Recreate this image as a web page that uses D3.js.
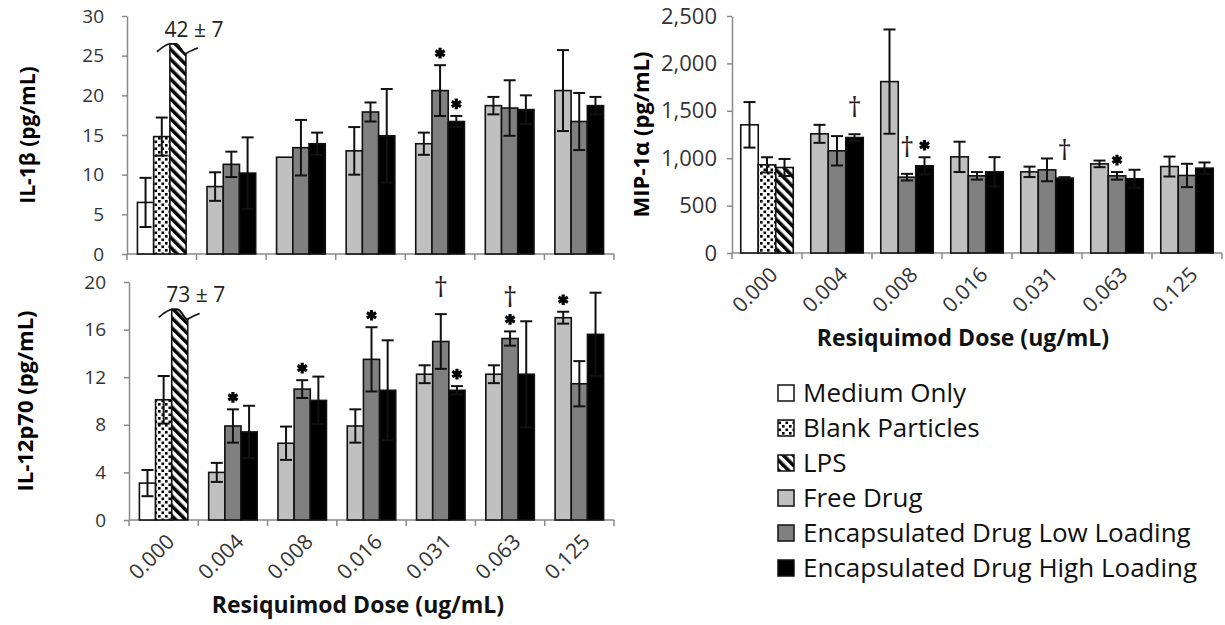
<!DOCTYPE html>
<html>
<head>
<meta charset="utf-8">
<script src="https://cdn.jsdelivr.net/npm/d3@7"></script>
<style>
  body { margin: 0; background: #fff; }
  text { font-family: "Open Sans", "Noto Sans", sans-serif; }
</style>
</head>
<body>
<div id="chart"></div>
<script>
// ---- data ----
const doses = ["0.000", "0.004", "0.008", "0.016", "0.031", "0.063", "0.125"];
const seriesNames = ["Medium Only", "Blank Particles", "LPS", "Free Drug",
  "Encapsulated Drug Low Loading", "Encapsulated Drug High Loading"];

// group 0.000 -> [Medium, Blank, LPS]; other doses -> [Free, Low, High]
const il1bMean = [[6.5, 14.8, 42], [8.5, 11.3, 10.2], [12.2, 13.4, 13.9], [13.0, 17.9, 14.9],
  [13.9, 20.6, 16.7], [18.7, 18.4, 18.2], [20.6, 16.7, 18.7]];
const il1bErr = [[3.1, 2.4, 7], [1.8, 1.6, 4.5], [0, 3.5, 1.4], [3.0, 1.2, 5.9],
  [1.4, 3.2, 0.7], [1.1, 3.5, 1.8], [5.1, 3.6, 1.1]];
const il1bMarks = [{ g: 4, s: 1, m: "*" }, { g: 4, s: 2, m: "*" }];

const il12Mean = [[3.1, 10.1, 73], [4.0, 7.9, 7.4], [6.45, 11.0, 10.05], [7.9, 13.5, 10.9],
  [12.25, 15.0, 10.9], [12.25, 15.25, 12.25], [17.0, 11.45, 15.6]];
const il12Err = [[1.1, 2.0, 7], [0.8, 1.4, 2.2], [1.4, 0.75, 2.0], [1.4, 2.7, 4.2],
  [0.75, 2.3, 0.35], [0.75, 0.6, 4.45], [0.5, 1.9, 3.5]];
const il12Marks = [{ g: 1, s: 1, m: "*" }, { g: 2, s: 1, m: "*" }, { g: 3, s: 1, m: "*" },
  { g: 4, s: 1, m: "†" }, { g: 4, s: 2, m: "*" }, { g: 5, s: 1, m: "*†" }, { g: 6, s: 0, m: "*" }];

const mipMean = [[1352, 930, 902], [1257, 1078, 1218], [1808, 800, 920], [1014, 814, 856],
  [856, 877, 790], [940, 814, 783], [912, 818, 895]];
const mipErr = [[240, 80, 90], [95, 155, 35], [550, 35, 90], [160, 40, 155],
  [55, 120, 10], [35, 40, 95], [105, 123, 60]];
const mipMarks = [{ g: 1, s: 2, m: "†" }, { g: 2, s: 1, m: "†" }, { g: 2, s: 2, m: "*" },
  { g: 4, s: 2, m: "†" }, { g: 5, s: 1, m: "*" }];

const fills = ["#ffffff", "url(#dots)", "url(#stripes)", "#c0c0c0", "#808080", "#000000"];

const svg = d3.select("#chart").append("svg")
  .attr("width", 1225).attr("height", 625)
  .style("background-color", "#fff");

// patterns for the control bars
const defs = svg.append("defs");
const dots = defs.append("pattern").attr("id", "dots")
  .attr("patternUnits", "userSpaceOnUse").attr("width", 7).attr("height", 7);
dots.append("rect").attr("width", 7).attr("height", 7).attr("fill", "#fff");
dots.append("rect").attr("x", 0.5).attr("y", 0.5).attr("width", 2.6).attr("height", 2.6).attr("fill", "#000");
dots.append("rect").attr("x", 4).attr("y", 4).attr("width", 2.6).attr("height", 2.6).attr("fill", "#000");
const stripes = defs.append("pattern").attr("id", "stripes")
  .attr("patternUnits", "userSpaceOnUse").attr("width", 7).attr("height", 7)
  .attr("patternTransform", "rotate(-45)");
stripes.append("rect").attr("width", 7).attr("height", 7).attr("fill", "#fff");
stripes.append("rect").attr("width", 3.5).attr("height", 7).attr("fill", "#000");

class GroupedBarPanel {

  constructor(_config, _means, _errs, _marks) {
    this.config = {
      x0: _config.x0, x1: _config.x1, yTop: _config.yTop, yBottom: _config.yBottom,
      yMax: _config.yMax, yStep: _config.yStep,
      yFormat: _config.yFormat || d3.format("d"),
      yTitle: _config.yTitle, yTitleX: _config.yTitleX, yTitleSize: _config.yTitleSize || 22,
      yTickSize: _config.yTickSize || 19, yTickPad: _config.yTickPad || 18,
      groupFrac: _config.groupFrac || 0.7,
      showX: _config.showX, xTitleX: _config.xTitleX, breakAt: _config.breakAt
    };
    this.means = _means;
    this.errs = _errs;
    this.marks = _marks;
    this.initVis();
  }

  initVis() {
    let vis = this;
    const c = vis.config;

    vis.xScale = d3.scaleBand().domain(doses).range([c.x0, c.x1]);
    const step = vis.xScale.step();
    const gw = step * c.groupFrac;
    vis.xInner = d3.scaleBand().domain([0, 1, 2]).range([(step - gw) / 2, (step + gw) / 2]);
    vis.yScale = d3.scaleLinear().domain([0, c.yMax]).range([c.yBottom, c.yTop]);

    vis.g = svg.append("g");

    // y axis
    vis.yAxis = d3.axisLeft(vis.yScale)
      .tickValues(d3.range(0, c.yMax + 1e-9, c.yStep))
      .tickFormat(c.yFormat)
      .tickSizeInner(5).tickSizeOuter(0).tickPadding(c.yTickPad);
    vis.yAxisG = vis.g.append("g")
      .attr("transform", `translate(${c.x0},0)`)
      .call(vis.yAxis);
    vis.yAxisG.selectAll("path, line").attr("stroke", "#8a8a8a").attr("stroke-width", 1.5);
    vis.yAxisG.selectAll("text").attr("fill", "#333").style("font-size", c.yTickSize + "px")
      .style("font-family", "'Open Sans', sans-serif");

    // x axis with ticks on category boundaries
    vis.g.append("line")
      .attr("x1", c.x0).attr("x2", c.x1).attr("y1", c.yBottom).attr("y2", c.yBottom)
      .attr("stroke", "#8a8a8a").attr("stroke-width", 1.5);
    vis.g.selectAll("line.xtick").data(doses.concat(["end"])).join("line")
      .attr("class", "xtick")
      .attr("x1", (d, i) => c.x0 + i * step).attr("x2", (d, i) => c.x0 + i * step)
      .attr("y1", c.yBottom).attr("y2", c.yBottom + 6)
      .attr("stroke", "#8a8a8a").attr("stroke-width", 1.5);

    if (c.showX) {
      vis.g.selectAll("text.xlab").data(doses).join("text")
        .attr("class", "xlab")
        .attr("text-anchor", "end")
        .attr("transform", d => `translate(${vis.xScale(d) + step / 2 + 12},${c.yBottom + 23}) rotate(-45)`)
        .attr("fill", "#333").style("font-size", "21px")
        .text(d => d);
      vis.g.append("text")
        .attr("x", c.xTitleX).attr("y", c.yBottom + 93)
        .attr("text-anchor", "middle")
        .style("font-size", "23px").style("font-weight", "bold").attr("fill", "#111")
        .text("Resiquimod Dose (ug/mL)");
    }

    vis.g.append("text")
      .attr("transform", `translate(${c.yTitleX},${(c.yTop + c.yBottom) / 2}) rotate(-90)`)
      .attr("text-anchor", "middle")
      .style("font-size", c.yTitleSize + "px").style("font-weight", "bold").attr("fill", "#000")
      .text(c.yTitle);

    vis.renderVis();
  }

  barX(g, s) {
    return this.xScale(doses[g]) + this.xInner(s);
  }

  renderVis() {
    let vis = this;
    const c = vis.config;
    const bw = vis.xInner.bandwidth();

    const bars = [];
    vis.means.forEach((row, g) => row.forEach((v, s) => {
      bars.push({ g: g, s: s, v: v, e: vis.errs[g][s], series: g === 0 ? s : s + 3 });
    }));

    const plain = bars.filter(d => !(c.breakAt && d.v > c.breakAt));
    const broken = bars.filter(d => c.breakAt && d.v > c.breakAt);

    vis.g.selectAll("rect.bar").data(plain).join("rect")
      .attr("class", "bar")
      .attr("x", d => vis.barX(d.g, d.s))
      .attr("width", bw)
      .attr("y", d => vis.yScale(d.v))
      .attr("height", d => c.yBottom - vis.yScale(d.v))
      .attr("fill", d => fills[d.series])
      .attr("stroke", "#111").attr("stroke-width", 1.6);

    // broken bar: top follows a wavy break line, real value written above
    const waveY = (dx, t) => {
      if (dx < 0) return t + 8 * Math.pow(-dx / 13, 1.4);
      if (dx <= bw) {
        const u = Math.max(0, Math.min(1, (dx / bw - 0.35) / 0.65));
        return t + 10 * u * u * (3 - 2 * u);
      }
      return t + 10 - 6 * Math.pow((dx - bw) / 12, 0.8);
    };
    broken.forEach(d => {
      const bx = vis.barX(d.g, d.s);
      const t = vis.yScale(c.breakAt);
      const top = d3.range(0, bw + 0.01, 1).map(dx => [bx + dx, waveY(dx, t)]);
      const poly = [[bx, c.yBottom]].concat(top).concat([[bx + bw, c.yBottom]]);
      vis.g.append("path")
        .attr("d", d3.line()(poly) + "Z")
        .attr("fill", fills[d.series]).attr("stroke", "#111").attr("stroke-width", 1.6);
      const wave = d3.range(-13, bw + 12.01, 1).map(dx => [bx + dx, waveY(dx, t)]);
      vis.g.append("path")
        .attr("d", d3.line().curve(d3.curveBasis)(wave))
        .attr("fill", "none").attr("stroke", "#111").attr("stroke-width", 1.6);
      vis.g.append("text")
        .attr("x", bx + bw / 2 + 16).attr("y", t - 7)
        .attr("text-anchor", "middle")
        .style("font-size", "21px").attr("fill", "#222")
        .text(`${d.v} ± ${d.e}`);
    });

    // error bars
    const eb = plain.filter(d => d.e > 0);
    const cap = 6;
    const ebG = vis.g.selectAll("g.err").data(eb).join("g").attr("class", "err")
      .attr("stroke", "#111").attr("stroke-width", 2);
    ebG.append("line")
      .attr("x1", d => vis.barX(d.g, d.s) + bw / 2).attr("x2", d => vis.barX(d.g, d.s) + bw / 2)
      .attr("y1", d => vis.yScale(d.v - d.e)).attr("y2", d => vis.yScale(d.v + d.e));
    ebG.append("line")
      .attr("x1", d => vis.barX(d.g, d.s) + bw / 2 - cap).attr("x2", d => vis.barX(d.g, d.s) + bw / 2 + cap)
      .attr("y1", d => vis.yScale(d.v + d.e)).attr("y2", d => vis.yScale(d.v + d.e));
    ebG.append("line")
      .attr("x1", d => vis.barX(d.g, d.s) + bw / 2 - cap).attr("x2", d => vis.barX(d.g, d.s) + bw / 2 + cap)
      .attr("y1", d => vis.yScale(d.v - d.e)).attr("y2", d => vis.yScale(d.v - d.e));

    // significance marks
    vis.marks.forEach(mk => {
      const cx = vis.barX(mk.g, mk.s) + bw / 2;
      const topY = vis.yScale(vis.means[mk.g][mk.s] + vis.errs[mk.g][mk.s]);
      let y = topY;
      if (mk.m.includes("*")) {
        y = topY - 12;
        vis.g.append("path")
          .attr("transform", `translate(${cx},${y})`)
          .attr("d", d3.symbol(d3.symbolAsterisk, 80)())
          .attr("fill", "none").attr("stroke", "#000").attr("stroke-width", 3.2);
      }
      if (mk.m.includes("†")) {
        const dy = mk.m.includes("*") ? y - 23 : topY - 28;
        vis.g.append("text")
          .attr("x", cx).attr("y", dy + 11)
          .attr("text-anchor", "middle")
          .style("font-size", "28px").attr("fill", "#2a1a1a")
          .text("†");
      }
    });
  }
}

new GroupedBarPanel({
  x0: 127, x1: 614, yTop: 16, yBottom: 254, yMax: 30, yStep: 5,
  yTitle: "IL-1β (pg/mL)", yTitleX: 35, yTitleSize: 21, showX: false, breakAt: 26.5, groupFrac: 0.7
}, il1bMean, il1bErr, il1bMarks);

new GroupedBarPanel({
  x0: 129, x1: 614, yTop: 282, yBottom: 520, yMax: 20, yStep: 4,
  yTitle: "IL-12p70 (pg/mL)", yTitleX: 33, showX: true, xTitleX: 358, breakAt: 17.7, groupFrac: 0.7
}, il12Mean, il12Err, il12Marks);

new GroupedBarPanel({
  x0: 732, x1: 1222, yTop: 16, yBottom: 253, yMax: 2500, yStep: 500,
  yFormat: d3.format(","), yTickSize: 22, yTickPad: 10, yTitleSize: 22,
  yTitle: "MIP-1α (pg/mL)", yTitleX: 649, showX: true, xTitleX: 963, groupFrac: 0.75
}, mipMean, mipErr, mipMarks);

// legend
const legend = svg.append("g").attr("transform", "translate(778,393)");
const rowH = 35;
seriesNames.forEach((name, i) => {
  legend.append("rect")
    .attr("x", 0).attr("y", i * rowH - 8).attr("width", 16).attr("height", 16)
    .attr("fill", fills[i]).attr("stroke", "#111").attr("stroke-width", 1.5);
  legend.append("text")
    .attr("x", 25).attr("y", i * rowH + 9)
    .style("font-size", "26px").attr("fill", "#111")
    .text(name);
});
</script>
</body>
</html>
